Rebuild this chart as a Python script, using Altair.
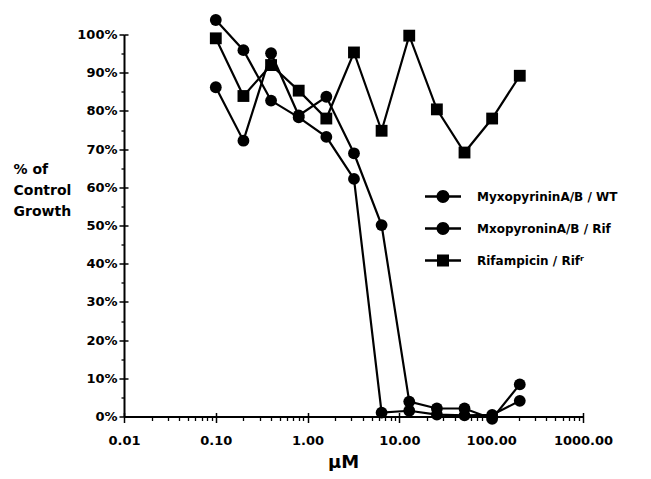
import altair as alt
import pandas as pd

conc = [0.1, 0.2, 0.4, 0.8, 1.6, 3.2, 6.4, 12.8, 25.6, 51.2, 102.4, 204.8]
series_names = ["MyxopyrininA/B / WT", "MxopyroninA/B / Rif", "Rifampicin / Rifʳ"]
wt = [103.8, 95.9, 82.7, 78.3, 73.2, 62.2, 1.0, 1.5, 0.5, 0.3, 0.4, 4.1]
rif = [86.2, 72.2, 95.1, 78.8, 83.7, 68.9, 50.1, 3.9, 2.1, 2.1, -0.6, 8.4]
rifampicin = [99.0, 83.9, 92.0, 85.3, 78.0, 95.3, 74.8, 99.7, 80.4, 69.1, 78.0, 89.2]

x_major = [0.01, 0.1, 1, 10, 100, 1000]
x_minor = [k * 10.0 ** e for e in range(-2, 3) for k in range(2, 10)]
y_major = list(range(0, 101, 10))
y_minor = list(range(5, 100, 10))

rows = []
for name, vals in zip(series_names, [wt, rif, rifampicin]):
    for c, v in zip(conc, vals):
        rows.append({"series": name, "conc": c, "pct": v})
df = pd.DataFrame(rows)

# legend glyphs: a short bar with a circle / square on it
bar = "M-1.5,-0.1H1.5V0.1H-1.5Z"
leg_circle = bar + "M0.54,0A0.54,0.54 0 1,1 -0.54,0A0.54,0.54 0 1,1 0.54,0Z"
leg_square = bar + "M-0.5,-0.5H0.5V0.5H-0.5Z"

FONT = "DejaVu Sans"
xs = alt.Scale(type="log", domain=[0.01, 1000], nice=False)
ys = alt.Scale(domain=[0, 100], nice=False, zero=False)

common = dict(grid=False, domainColor="black", tickColor="black", labelColor="black",
              labelFont=FONT, labelFontWeight="bold", labelFontSize=13, titleColor="black")

x_main = alt.Axis(orient="bottom", values=x_major, format=".2f", tickSize=6, tickWidth=1.5,
                  domainWidth=2, labelPadding=12, title="μM", titleFont=FONT,
                  titleFontSize=18, titleFontWeight="bold", titleBaseline="alphabetic",
                  titleAlign="center", titleX=219, titleY=50.5,
                  labelFlush=False, labelOverlap=False, **common)
x_minor_ax = alt.Axis(orient="bottom", values=x_minor, tickSize=4, tickWidth=1.3, domain=False,
                      labels=False, title=None, grid=False, tickColor="black")
x_inner = alt.Axis(orient="bottom", values=x_major, offset=-4, tickSize=4, tickWidth=1.5,
                   domain=False, labels=False, title=None, grid=False, tickColor="black")

y_main = alt.Axis(orient="left", values=y_major, labelExpr="datum.value + '%'", tickSize=5,
                  tickWidth=1.5, domainWidth=2, labelPadding=2,
                  title=["% of", "Control", "Growth"], titleAngle=0, titleAlign="left",
                  titleBaseline="top", titleX=-111, titleY=128, titleFont=FONT,
                  titleFontSize=14, titleFontWeight="bold", titleLineHeight=21, **common)
y_minor_ax = alt.Axis(orient="left", values=y_minor, tickSize=3, tickWidth=1.3, domain=False,
                      labels=False, title=None, grid=False, tickColor="black")
y_inner = alt.Axis(orient="left", values=y_major, offset=-4, tickSize=4, tickWidth=1.5,
                   domain=False, labels=False, title=None, grid=False, tickColor="black")

base = alt.Chart(df)

lines = base.mark_line(color="black", strokeWidth=2.2).encode(
    x=alt.X("conc:Q", scale=xs, axis=x_main),
    y=alt.Y("pct:Q", scale=ys, axis=y_main),
    detail="series:N",
)

points = base.mark_point(filled=True, color="black", opacity=1, size=140).encode(
    x=alt.X("conc:Q", scale=xs, axis=x_minor_ax),
    y=alt.Y("pct:Q", scale=ys, axis=y_minor_ax),
    shape=alt.Shape("series:N",
                    scale=alt.Scale(domain=series_names, range=["circle", "circle", "square"]),
                    legend=None),
)

legend_layer = base.mark_point(filled=True, color="black", opacity=0, size=576).encode(
    x=alt.X("conc:Q", scale=xs, axis=x_inner),
    y=alt.Y("pct:Q", scale=ys, axis=y_inner),
    shape=alt.Shape("series:N",
                    scale=alt.Scale(domain=series_names,
                                    range=[leg_circle, leg_circle, leg_square]),
                    legend=alt.Legend(title=None, orient="none", legendX=307, legendY=150,
                                      symbolSize=576, symbolOpacity=1,
                                      symbolFillColor="black", symbolStrokeWidth=0,
                                      labelFont=FONT, labelFontWeight="bold", labelFontSize=12,
                                      labelColor="black", labelOffset=22, rowPadding=13,
                                      padding=0, labelLimit=300)),
)

chart = alt.layer(lines, points, legend_layer).resolve_axis(
    x="independent", y="independent"
).resolve_scale(shape="independent").properties(
    width=459, height=382,
    padding={"left": 116, "top": 26.5, "right": 60, "bottom": 54.5},
    autosize=alt.AutoSizeParams(type="none"),
).configure_view(stroke=None)

chart.save("out.html", embed_options={"renderer": "svg", "actions": False})
